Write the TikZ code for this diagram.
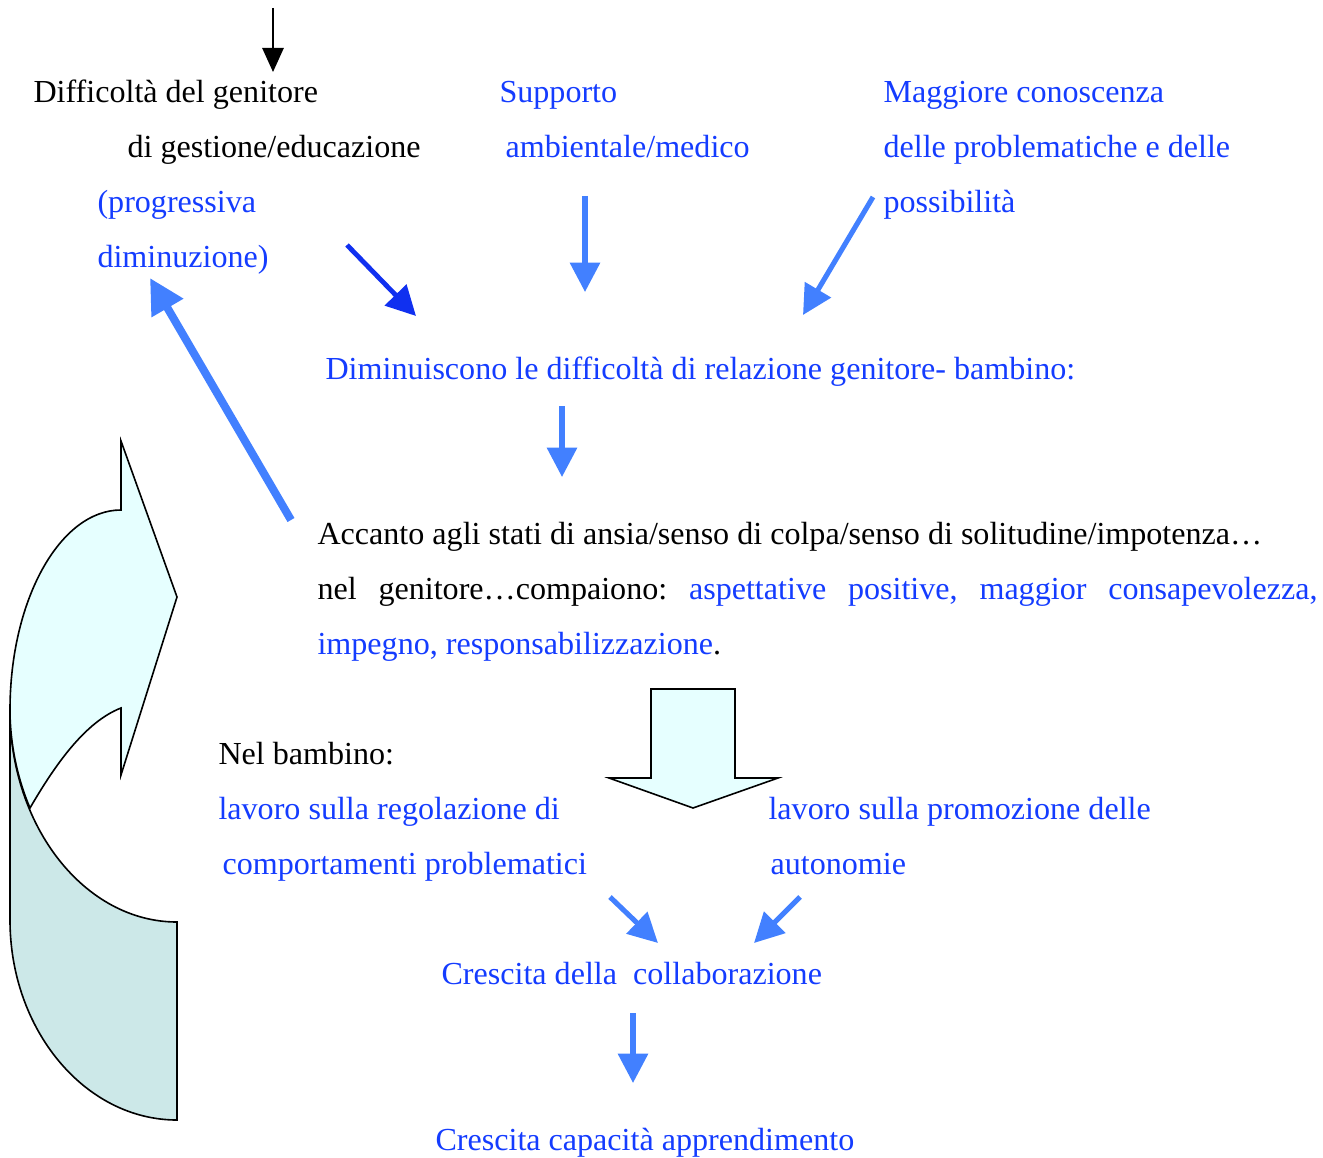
\documentclass[tikz,border=0pt]{standalone}
\usepackage{fontspec}
\setmainfont{Liberation Serif}
\usetikzlibrary{arrows.meta}
\definecolor{txtblue}{RGB}{20,60,255}
\definecolor{arrblue}{RGB}{66,128,255}
\definecolor{darkarr}{RGB}{16,48,240}
\definecolor{frontcyan}{RGB}{230,255,255}
\definecolor{backcyan}{RGB}{204,232,232}
\frenchspacing

\begin{document}
\begin{tikzpicture}[
      x=0.374pt,y=-0.374pt,
      txt/.style={anchor=base west,inner sep=0pt,font=\fontsize{12}{20.6}\selectfont},
      btxt/.style={txt,text=txtblue},
      link/.style={draw=arrblue,line width=1.9pt,-{Triangle[length=11pt,width=11pt]}},
      biglink/.style={draw=arrblue,line width=3pt,-{Triangle[length=13pt,width=13pt]}},
      darklink/.style={draw=darkarr,line width=1.8pt,-{Triangle[length=11pt,width=11pt]}},
      thinlink/.style={draw=black,line width=0.6pt,-{Triangle[length=9pt,width=8pt]}},
      blockshape/.style={draw,line width=0.6pt}
    ]
    \useasboundingbox (0,0) rectangle (1323,1157);

    % Parent side
    \node[txt] (gen1) at (33,103) {Difficoltà del genitore};
    \node[txt] (gen2) at (127,158) {di gestione/educazione};
    \node[btxt] (prog1) at (97,213) {(progressiva};
    \node[btxt] (prog2) at (97,268) {diminuzione)};

    % Support and knowledge
    \node[btxt] (sup1) at (499,103) {Supporto};
    \node[btxt] (sup2) at (505,158) {ambientale/medico};
    \node[btxt] (con1) at (883,103) {Maggiore conoscenza};
    \node[btxt] (con2) at (883,158) {delle problematiche e delle};
    \node[btxt] (con3) at (883,213) {possibilità};

    % Relation
    \node[btxt] (rel) at (325,379) {Diminuiscono le difficoltà di relazione genitore- bambino:};

    \node[txt,text width=374pt,align=justify] (acc) at (317,544)
      {Accanto agli stati di ansia/senso di colpa/senso di solitudine/impotenza…\\
       nel genitore…compaiono: \textcolor{txtblue}{aspettative positive, maggior consapevolezza,}\linebreak
       \textcolor{txtblue}{impegno, responsabilizzazione}.};

    % Child side
    \node[txt] (nel) at (218,764) {Nel bambino:};
    \node[btxt] (reg1) at (218,819) {lavoro sulla regolazione di};
    \node[btxt] (reg2) at (222,874) {comportamenti problematici};
    \node[btxt] (aut1) at (768,819) {lavoro sulla promozione delle};
    \node[btxt] (aut2) at (770,874) {autonomie};
    \node[btxt] (coll) at (441,984) {Crescita della\ \ collaborazione};
    \node[btxt] (appr) at (435,1150) {Crescita capacità apprendimento};

    % Arrow ends
    \coordinate (t0) at (273,8);    \coordinate (t1) at (273,72);
    \coordinate (d0) at (347,245);  \coordinate (d1) at (416,316);
    \coordinate (s0) at (585,196);  \coordinate (s1) at (585,292);
    \coordinate (c0) at (873,197);  \coordinate (c1) at (803,315);
    \coordinate (r0) at (562,406);  \coordinate (r1) at (562,477);
    \coordinate (b0) at (291,520);  \coordinate (b1) at (150,278);
    \coordinate (l0) at (610,897);  \coordinate (l1) at (658,943);
    \coordinate (p0) at (800,897);  \coordinate (p1) at (754,943);
    \coordinate (g0) at (633,1013); \coordinate (g1) at (633,1083);

    \draw[thinlink] (t0) -- (t1);
    \draw[darklink] (d0) -- (d1);
    \draw[link] (s0) -- (s1);
    \draw[link] (c0) -- (c1);
    \draw[link] (r0) -- (r1);
    \draw[biglink] (b0) -- (b1);
    \draw[link] (l0) -- (l1);
    \draw[link] (p0) -- (p1);
    \draw[link] (g0) -- (g1);

    % Block arrow down
    \draw[blockshape,fill=frontcyan] (651,689) -- (735,689) -- (735,778) -- (778,778)
      -- (693,808) -- (609,778) -- (651,778) -- cycle;

    % Curved arrow, back band
    \draw[blockshape,fill=backcyan] (10,710) -- (10,920)
      .. controls (10,1030) and (85,1120) .. (177,1120) -- (177,922)
      .. controls (85,922) and (10,827) .. (10,710) -- cycle;
    % Curved arrow, front part
    \draw[blockshape,fill=frontcyan] (30,808) .. controls (55,765) and (85,722) .. (121,708)
      -- (121,775) -- (177,597) -- (121,441) -- (121,510)
      .. controls (60,510) and (10,600) .. (10,710)
      .. controls (10,745) and (18,780) .. (30,808) -- cycle;
  \end{tikzpicture}
\end{document}
